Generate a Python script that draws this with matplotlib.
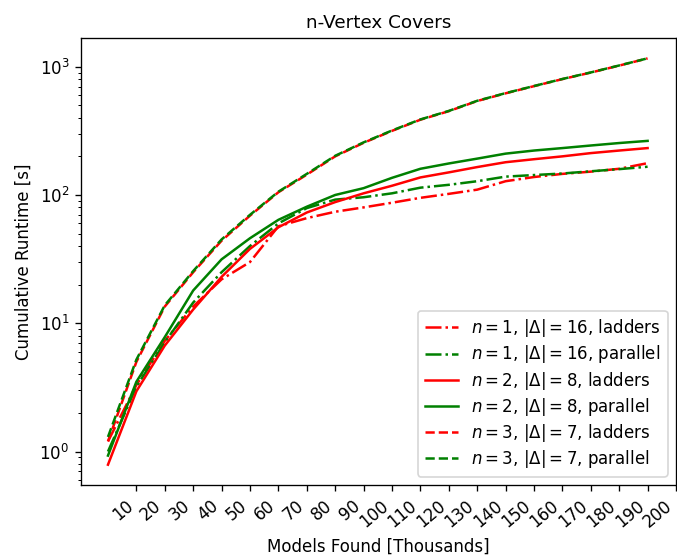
import matplotlib
matplotlib.use("Agg")
import matplotlib.pyplot as plt

# models found (thousands)
models = [0, 10, 20, 30, 40, 50, 60, 70, 80, 90, 100,
          110, 120, 130, 140, 150, 160, 170, 180, 190]

# cumulative runtime [s]
n1_ladders = [1.2, 3.3, 7.3, 13.5, 22, 30, 57, 66, 74, 80, 87,
              95, 102, 110, 128, 138, 146, 152, 160, 177]
n1_parallel = [1.0, 3.2, 7.1, 14.5, 25, 40, 60, 79, 92, 96, 103,
               114, 120, 128, 139, 143, 147, 153, 159, 166]
n2_ladders = [0.79, 2.95, 6.7, 12.8, 23, 38, 56, 73, 88, 103, 118,
              137, 150, 165, 180, 190, 200, 212, 222, 232]
n2_parallel = [0.93, 3.5, 7.8, 18, 31.5, 46, 64, 81, 100, 113, 136,
               160, 176, 192, 210, 222, 232, 243, 254, 264]
n3_ladders = [1.2, 5.0, 13.5, 25, 44, 69, 105, 144, 200, 255, 316,
              386, 450, 540, 620, 705, 800, 900, 1020, 1160]
n3_parallel = [1.3, 5.2, 13.8, 25.5, 45, 70, 106, 146, 202, 257, 318,
               388, 452, 542, 622, 707, 802, 902, 1022, 1162]

xtick_vals = list(range(10, 201, 10))

fig = plt.figure(figsize=(677/120, 556/120), dpi=120)
ax = fig.add_axes([81/677, (556-485)/556, (676-81)/677, (485-38)/556])

ax.plot(models, n1_ladders, color='red', linestyle='-.', label=r'$n=1$, $|\Delta|=16$, ladders')
ax.plot(models, n1_parallel, color='green', linestyle='-.', label=r'$n=1$, $|\Delta|=16$, parallel')
ax.plot(models, n2_ladders, color='red', linestyle='-', label=r'$n=2$, $|\Delta|=8$, ladders')
ax.plot(models, n2_parallel, color='green', linestyle='-', label=r'$n=2$, $|\Delta|=8$, parallel')
ax.plot(models, n3_ladders, color='red', linestyle='--', label=r'$n=3$, $|\Delta|=7$, ladders')
ax.plot(models, n3_parallel, color='green', linestyle='--', label=r'$n=3$, $|\Delta|=7$, parallel')

ax.set_yscale('log')
ax.set_xlim(-9.5, 200)
ax.set_xticks(xtick_vals)
ax.set_xticklabels([str(v) for v in xtick_vals], rotation=40, ha='right')

ax.set_title('n-Vertex Covers', fontsize=11)
ax.set_xlabel('Models Found [Thousands]')
ax.set_ylabel('Cumulative Runtime [s]')
ax.legend(loc='lower right', labelspacing=0.25)

fig.savefig('out.png', dpi=120)
